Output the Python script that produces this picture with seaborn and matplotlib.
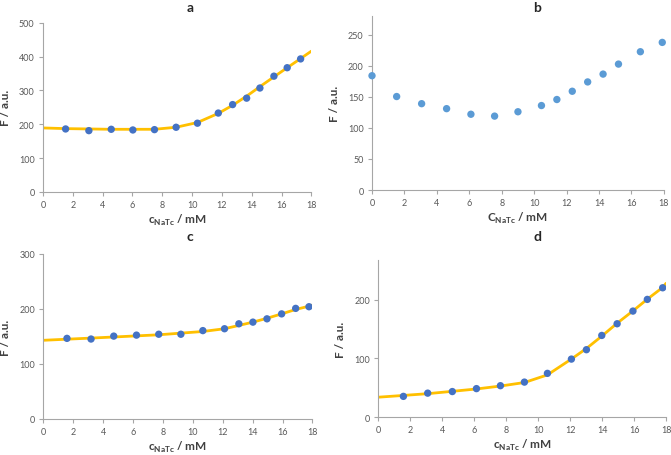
import matplotlib
matplotlib.use("Agg")
import matplotlib.pyplot as plt
import seaborn as sns

# panel a
a_x = [1.52, 3.08, 4.58, 6.03, 7.48, 8.93, 10.36, 11.76, 12.72, 13.66, 14.55, 15.49, 16.38, 17.28]
a_y = [186, 181, 185, 183, 184, 191, 203, 233, 258, 277, 307, 342, 367, 393]
a_fit_x = [0, 1.52, 3.08, 4.58, 6.03, 7.48, 8.93, 10.36, 11.76, 12.72, 13.66, 14.55, 15.49, 16.38, 17.28, 18]
a_fit_y = [189, 187, 186, 185, 185, 185, 191, 205, 232, 256, 283, 311, 340, 367, 394, 416]

# panel b
b_x = [0, 1.52, 3.06, 4.6, 6.1, 7.56, 9.0, 10.45, 11.4, 12.35, 13.3, 14.25, 15.2, 16.55, 17.9]
b_y = [184, 150.5, 139, 131, 122, 119, 126, 136, 145.7, 159, 174, 186.6, 202.7, 222.6, 237.6]

# panel c
c_x = [1.58, 3.19, 4.71, 6.23, 7.72, 9.2, 10.67, 12.12, 13.08, 14.02, 14.96, 15.94, 16.88, 17.77]
c_y = [146.5, 145.3, 150.6, 152.4, 154, 154, 160.6, 164, 173, 176, 182, 191, 201, 204]
c_fit_x = [0, 1.58, 3.19, 4.71, 6.23, 7.72, 9.2, 10.67, 12.12, 13.08, 14.02, 14.96, 15.94, 16.88, 17.77, 18]
c_fit_y = [143, 145, 147, 149, 151, 153, 156, 159, 164, 170, 176, 183, 191, 199, 205, 207]

# panel d
d_x = [1.57, 3.09, 4.63, 6.14, 7.64, 9.14, 10.58, 12.08, 13.02, 13.98, 14.94, 15.93, 16.83, 17.79]
d_y = [35.4, 40.9, 43.6, 48.6, 53.6, 59.7, 74.6, 98.9, 114.9, 139.2, 159.1, 180.7, 200.6, 220.4]
d_fit_x = [0, 1.57, 3.09, 4.63, 6.14, 7.64, 9.14, 10.58, 12.08, 13.02, 13.98, 14.94, 15.93, 16.83, 17.79, 18]
d_fit_y = [34, 37, 40, 44, 48, 53, 59, 72, 99, 117, 138, 160, 181, 201, 221, 228]

sns.set_style("ticks")
plt.rcParams['font.family'] = ['Lato', 'DejaVu Sans']
plt.rcParams['mathtext.fontset'] = 'custom'
plt.rcParams['mathtext.rm'] = 'Lato'
plt.rcParams['mathtext.bf'] = 'Lato:bold'

dark_blue = '#4472C4'
light_blue = '#5B9BD5'
gold = '#FFC000'
spine_col = '#A6A6A6'
tick_col = '#595959'

fig = plt.figure(figsize=(6.71, 4.56), dpi=100)

def style_axes(ax, ymax, yticks, xlabel):
    ax.set_xlim(0, 18)
    ax.set_ylim(0, ymax)
    ax.set_xticks(range(0, 19, 2))
    ax.set_yticks(yticks)
    sns.despine(ax=ax)
    for s in ['left', 'bottom']:
        ax.spines[s].set_color(spine_col)
        ax.spines[s].set_linewidth(0.8)
    ax.tick_params(colors=spine_col, labelcolor=tick_col, labelsize=6.5, length=3, width=0.8, pad=3)
    ax.set_xlabel(xlabel, fontsize=8.5, fontweight='bold', color='#404040', labelpad=2)
    ax.set_ylabel('F / a.u.', fontsize=8.5, fontweight='bold', color='#404040', labelpad=6)

lab_c = r'c$_{\mathbf{NaTc}}$ / mM'
lab_C = r'C$_{\mathbf{NaTc}}$ / mM'

# a
ax = fig.add_axes([0.064, 0.577, 0.400, 0.371])
sns.lineplot(x=a_fit_x, y=a_fit_y, ax=ax, color=gold, lw=2)
sns.scatterplot(x=a_x, y=a_y, ax=ax, color=dark_blue, s=28, edgecolor='none', zorder=3)
style_axes(ax, 500, range(0, 501, 100), lab_c)

# b
ax = fig.add_axes([0.5544, 0.581, 0.435, 0.3816])
sns.scatterplot(x=b_x, y=b_y, ax=ax, color=light_blue, s=28, edgecolor='none', zorder=3, clip_on=False)
style_axes(ax, 280, range(0, 251, 50), lab_C)

# c
ax = fig.add_axes([0.0646, 0.079, 0.401, 0.362])
sns.lineplot(x=c_fit_x, y=c_fit_y, ax=ax, color=gold, lw=2)
sns.scatterplot(x=c_x, y=c_y, ax=ax, color=dark_blue, s=28, edgecolor='none', zorder=3)
style_axes(ax, 300, range(0, 301, 100), lab_c)

# d
ax = fig.add_axes([0.5638, 0.083, 0.4288, 0.345])
sns.lineplot(x=d_fit_x, y=d_fit_y, ax=ax, color=gold, lw=2)
sns.scatterplot(x=d_x, y=d_y, ax=ax, color=dark_blue, s=28, edgecolor='none', zorder=3)
style_axes(ax, 268, range(0, 201, 100), lab_c)

for label, x, y in [('a', 190, 8), ('b', 537, 8), ('c', 190, 237), ('d', 537, 237)]:
    fig.text(x / 671, 1 - y / 456, label, fontsize=10, fontweight='bold', ha='center', va='center')

fig.savefig('out.png', dpi=100)
